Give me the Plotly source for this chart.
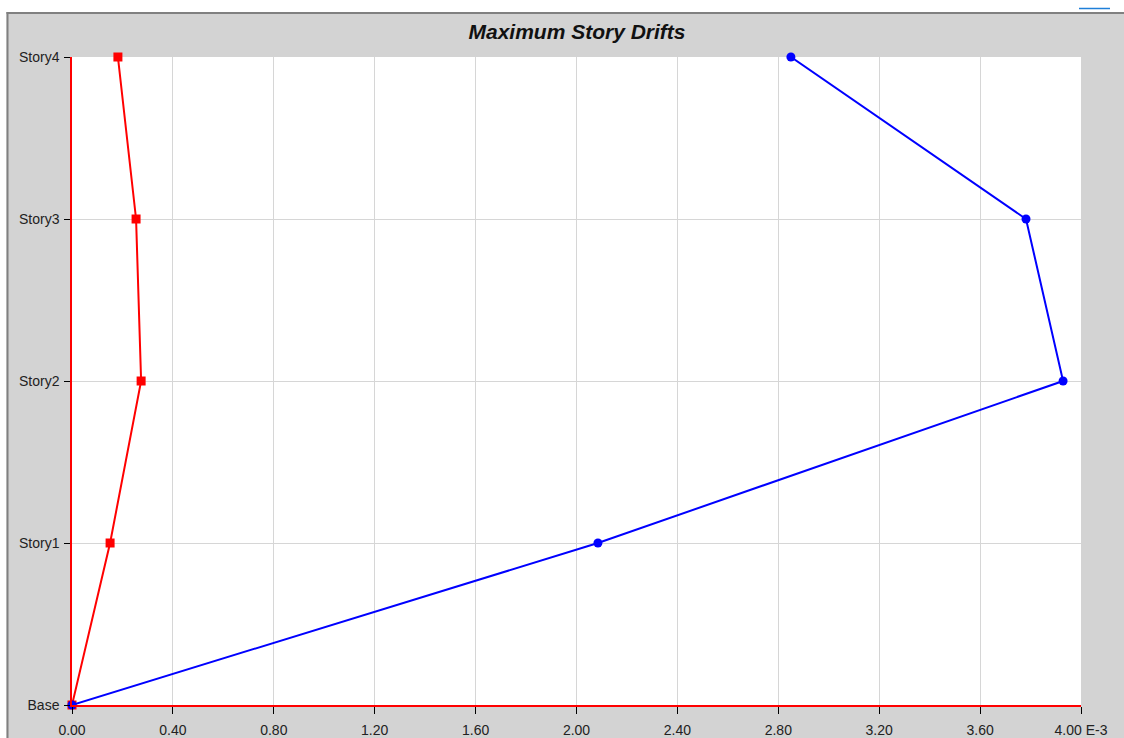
import plotly.graph_objects as go

stories = ["Base", "Story1", "Story2", "Story3", "Story4"]
story_pos = [0, 1, 2, 3, 4]
drift_blue = [0.0, 2.085, 3.929, 3.782, 2.850]   # E-3
drift_red = [0.0, 0.151, 0.274, 0.254, 0.182]    # E-3
x_ticks = [0.0, 0.4, 0.8, 1.2, 1.6, 2.0, 2.4, 2.8, 3.2, 3.6, 4.0]
x_tick_text = ["0.00", "0.40", "0.80", "1.20", "1.60", "2.00", "2.40", "2.80", "3.20", "3.60", "4.00 E-3"]

fig = go.Figure()
fig.add_trace(go.Scatter(x=drift_red, y=story_pos, mode="lines+markers",
                         line=dict(color="#ff0000", width=2),
                         marker=dict(symbol="square", size=9, color="#ff0000"),
                         cliponaxis=False, showlegend=False))
fig.add_trace(go.Scatter(x=drift_blue, y=story_pos, mode="lines+markers",
                         line=dict(color="#0000ff", width=2),
                         marker=dict(symbol="circle", size=9, color="#0000ff"),
                         cliponaxis=False, showlegend=False))

W, H = 1124, 738
L, R, T, B = 72, 43, 57, 33
pw, ph = W - L - R, H - T - B

def px(x):  # page x -> paper
    return (x - L) / pw

def py(y):  # page y -> paper
    return (H - B - y) / ph

shapes = [
    # gray frame extending to the right/bottom edge
    dict(type="rect", xref="paper", yref="paper", x0=px(1082), x1=px(1140), y0=py(760), y1=py(14),
         fillcolor="#d3d3d3", line=dict(width=0), layer="below"),
    # white strips outside the gray frame
    dict(type="rect", xref="paper", yref="paper", x0=px(-20), x1=px(1140), y0=py(12), y1=py(-20),
         fillcolor="white", line=dict(width=0), layer="above"),
    dict(type="rect", xref="paper", yref="paper", x0=px(-20), x1=px(6.5), y0=py(760), y1=py(-20),
         fillcolor="white", line=dict(width=0), layer="above"),
    # frame border
    dict(type="line", xref="paper", yref="paper", x0=px(6.5), x1=px(1140), y0=py(13), y1=py(13),
         line=dict(color="#808080", width=2), layer="above"),
    dict(type="line", xref="paper", yref="paper", x0=px(7.5), x1=px(7.5), y0=py(12), y1=py(760),
         line=dict(color="#808080", width=2), layer="above"),
    # small blue mark at top right
    dict(type="line", xref="paper", yref="paper", x0=px(1079), x1=px(1110), y0=py(8.5), y1=py(8.5),
         line=dict(color="#1e7fd8", width=1.5), layer="above"),
]

fig.update_layout(
    width=W, height=H,
    margin=dict(l=L, r=R, t=T, b=B, pad=0, autoexpand=False),
    paper_bgcolor="#d3d3d3",
    plot_bgcolor="white",
    title=dict(text="Maximum Story Drifts", x=px(577), xref="paper",
               y=1 - 32 / H, yref="container", xanchor="center", yanchor="middle",
               font=dict(family="Liberation Sans, Arial", size=21, color="#111111",
                         weight="bold", style="italic")),
    font=dict(family="Liberation Sans, Arial", size=14, color="#222222"),
    shapes=shapes,
    showlegend=False,
)
fig.update_xaxes(range=[0, 4], tickvals=x_ticks, ticktext=x_tick_text, automargin=False,
                 showgrid=True, gridcolor="#d6d6d6", gridwidth=1, zeroline=False,
                 showline=True, linecolor="#ff0000", linewidth=2,
                 ticks="outside", ticklen=7, tickcolor="#000000", tickwidth=1,
                 ticklabelstandoff=4,
                 tickfont=dict(size=14, color="#222222"), fixedrange=True)
fig.update_yaxes(range=[0, 4], tickvals=story_pos, ticktext=stories, automargin=False,
                 showgrid=True, gridcolor="#d6d6d6", gridwidth=1, zeroline=False,
                 showline=True, linecolor="#ff0000", linewidth=1.5,
                 ticks="outside", ticklen=6, tickcolor="#000000", tickwidth=1,
                 ticklabelstandoff=2,
                 tickfont=dict(size=14, color="#222222"), fixedrange=True)

# remove the browser's default 8px body margin so the figure fills the window exactly
fig.write_html("out.html", config={"displayModeBar": False},
               post_script="document.body.style.margin='0';"
                           "document.documentElement.style.overflow='hidden';")
